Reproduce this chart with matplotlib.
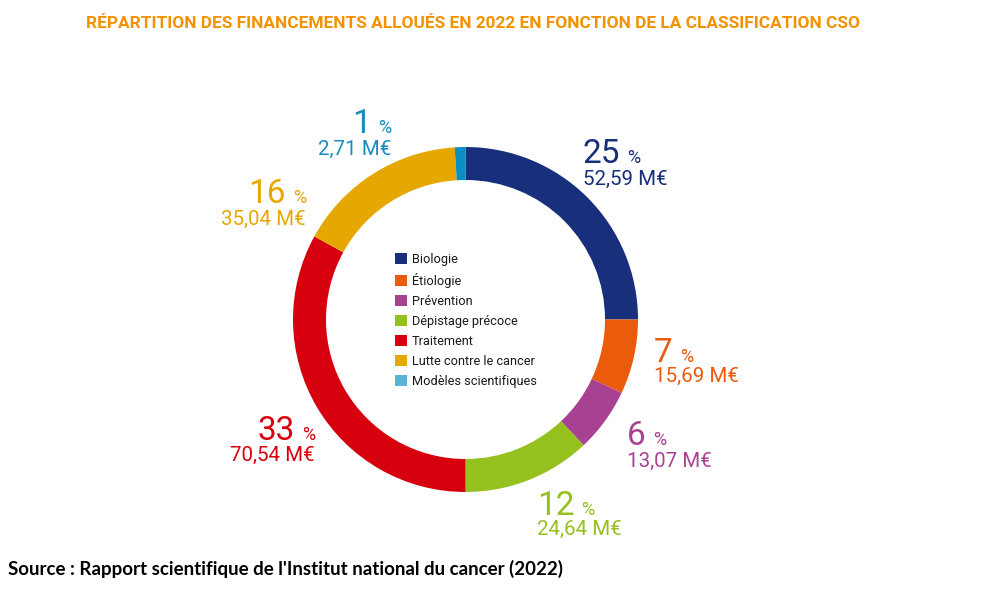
import matplotlib
matplotlib.use('Agg')
import matplotlib.pyplot as plt
from matplotlib.patches import Patch

W, H = 992, 594  # figure size in pixels (dpi 100)

# Data
categories = ['Biologie', 'Étiologie', 'Prévention', 'Dépistage précoce',
              'Traitement', 'Lutte contre le cancer', 'Modèles scientifiques']
amounts = [52.59, 15.69, 13.07, 24.64, 70.54, 35.04, 2.71]  # M€
percents = [25, 7, 6, 12, 33, 16, 1]

title = 'RÉPARTITION DES FINANCEMENTS ALLOUÉS EN 2022 EN FONCTION DE LA CLASSIFICATION CSO'
source = "Source : Rapport scientifique de l'Institut national du cancer (2022)"

# Styles
wedge_colors = ['#182f7c', '#ea5b0c', '#a94192', '#95c11f', '#d7000f', '#e6a700', '#0b8ec0']
legend_colors = ['#182f7c', '#ea5b0c', '#a94192', '#95c11f', '#d7000f', '#e6a700', '#5ab4d7']
label_colors = ['#182f7c', '#ea5b0c', '#a94192', '#95c11f', '#d7000f', '#e6a700', '#1a8bbf']

# label layout in image pixels: x anchor, baseline of %, baseline of amount, side of anchor
label_layout = [
    (583, 163, 185, 'left'),
    (654, 362, 382, 'left'),
    (627, 445, 467, 'left'),
    (537, 515, 535, 'left'),
    (315, 440, 461, 'right'),
    (306, 203, 225, 'right'),
    (391, 133, 155, 'right'),
]

font = 'Roboto'

fig = plt.figure(figsize=(W / 100, H / 100), dpi=100)
ax = fig.add_axes([0, 0, 1, 1])

# Donut drawn from the rounded shares, starting at the top and going clockwise
ax.pie(percents, colors=wedge_colors, startangle=90, counterclock=False,
       radius=172.5, center=(465.5, H - 319.5),
       wedgeprops=dict(width=33, linewidth=0))
ax.set_xlim(0, W)
ax.set_ylim(0, H)
ax.set_aspect('auto')
ax.axis('off')

# Labels around the ring
fig.canvas.draw()
renderer = fig.canvas.get_renderer()
inv = ax.transData.inverted()
gap = 7

for (x, yb_pct, yb_val, side), pct, amt, col in zip(label_layout, percents, amounts, label_colors):
    val_str = f'{amt:.2f}'.replace('.', ',') + ' M€'
    if side == 'left':
        num = ax.text(x, H - yb_pct, str(pct), ha='left', va='baseline',
                      fontsize=24, family=font, color=col)
        bb = num.get_window_extent(renderer)
        xr = inv.transform((bb.x1, 0))[0]
        ax.text(xr + gap, H - yb_pct, '%', ha='left', va='baseline',
                fontsize=13, family=font, color=col)
        ax.text(x, H - yb_val, val_str, ha='left', va='baseline',
                fontsize=14.8, family=font, color=col)
    else:
        sym = ax.text(x, H - yb_pct, '%', ha='right', va='baseline',
                      fontsize=13, family=font, color=col)
        bb = sym.get_window_extent(renderer)
        xl = inv.transform((bb.x0, 0))[0]
        ax.text(xl - gap, H - yb_pct, str(pct), ha='right', va='baseline',
                fontsize=24, family=font, color=col)
        ax.text(x, H - yb_val, val_str, ha='right', va='baseline',
                fontsize=14.8, family=font, color=col)

# Legend in the hole
handles = [Patch(facecolor=c, edgecolor='none') for c in legend_colors]
ax.legend(handles, categories, loc='upper left',
          bbox_to_anchor=(395 / W, 1 - 252.5 / H), frameon=False,
          prop=dict(family=font, size=9.2), labelcolor='#1a1a1a',
          handlelength=0.94, handleheight=0.94, handletextpad=0.4,
          labelspacing=0.55, borderpad=0, borderaxespad=0)

fig.text(473 / W, 1 - 28 / H, title, ha='center', va='baseline',
         fontsize=12.4, fontweight='bold', family=font, color='#f39200')
fig.text(8 / W, 1 - 575 / H, source, ha='left', va='baseline',
         fontsize=13.5, fontweight='bold', family='Lato', color='black')

fig.savefig('out.png', dpi=100, facecolor='white')
